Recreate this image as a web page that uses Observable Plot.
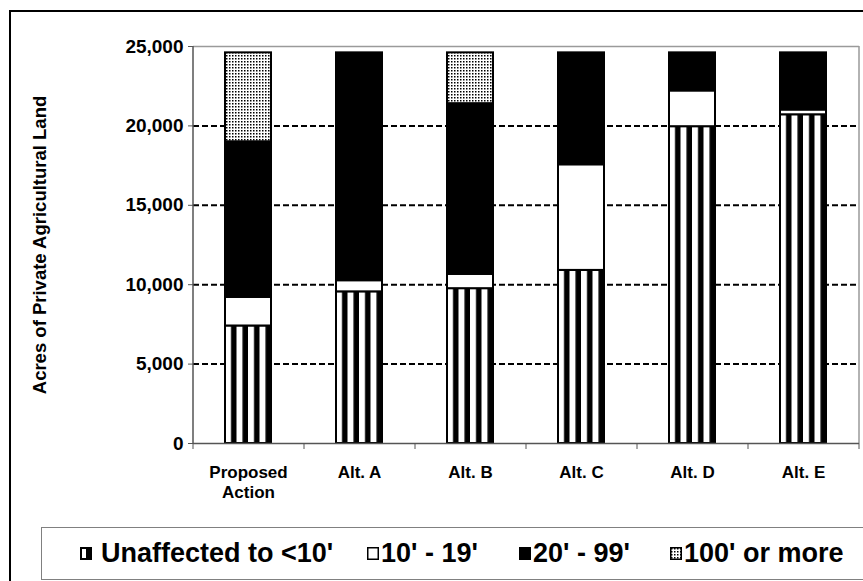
<!DOCTYPE html>
<html>
<head>
<meta charset="utf-8">
<script src="https://cdn.jsdelivr.net/npm/d3@7"></script>
<script src="https://cdn.jsdelivr.net/npm/@observablehq/plot@0.6"></script>
<style>
  body { margin: 0; background: white; }
  #wrap { position: relative; width: 863px; height: 581px; overflow: hidden; background: white;
          font-family: Arial, "Liberation Sans", sans-serif; }
  #chart { position: absolute; left: 0; top: 0; }
  #legend { position: absolute; left: 41px; top: 527px; width: 900px; height: 53px;
            border: 1px solid #808080; box-sizing: border-box; }
  .item { position: absolute; top: 0; height: 51px; display: flex; align-items: center;
          font-weight: bold; font-size: 27px; color: black; white-space: nowrap; }
  .item svg { margin-right: 2px; }
  .item.first svg { margin-right: 9px; }
  #frame { position: absolute; left: 9px; top: 10px; width: 900px; height: 700px;
           border: 2px solid black; pointer-events: none; }
</style>
</head>
<body>
<div id="wrap">
  <div id="chart"></div>
  <div id="legend"></div>
  <div id="frame"></div>
</div>
<script>
// ---- data ----
const categories = ["Proposed Action", "Alt. A", "Alt. B", "Alt. C", "Alt. D", "Alt. E"];
const categoryLabels = ["Proposed\nAction", "Alt. A", "Alt. B", "Alt. C", "Alt. D", "Alt. E"];
const series = ["Unaffected to <10'", "10' - 19'", "20' - 99'", "100' or more"];
const unaffected = [7400, 9550, 9750, 10900, 19950, 20700];
const ft10to19   = [1800, 700, 900, 6650, 2250, 300];
const ft20to99   = [9800, 14350, 10750, 7050, 2400, 3600];
const ft100plus  = [5600, 0, 3200, 0, 0, 0];
const yTicks = [0, 5000, 10000, 15000, 20000, 25000];
const gridTicks = [5000, 10000, 15000, 20000];

// ---- layout ----
const legendLeft = [38, 325, 477, 628];
const fills = ["url(#stripes)", "white", "black", "url(#dots)"];

const seriesValues = [unaffected, ft10to19, ft20to99, ft100plus];
const data = [];
categories.forEach((c, i) => {
  series.forEach((s, j) => {
    const v = seriesValues[j][i];
    if (v > 0) data.push({cat: c, series: s, value: v});
  });
});
const labelOf = new Map(categories.map((c, i) => [c, categoryLabels[i]]));

const half = 55.5;
const chart = Plot.plot({
  width: 863,
  height: 520,
  marginLeft: 193,
  marginRight: 4,
  marginTop: 46,
  marginBottom: 77,
  style: {fontFamily: "Arial, 'Liberation Sans', sans-serif", color: "black", background: "white"},
  x: {domain: categories, paddingInner: 0.585, paddingOuter: 0.2925},
  y: {domain: [0, 25000]},
  color: {domain: series, range: fills},
  marks: [
    Plot.ruleY(gridTicks, {stroke: "black", strokeWidth: 2, strokeDasharray: "6,3"}),
    Plot.ruleY([25000], {stroke: "#9a9a9a", strokeWidth: 1.5}),
    Plot.ruleX([categories[categories.length - 1]], {dx: half, y1: 0, y2: 25000, stroke: "#9a9a9a", strokeWidth: 1.5}),
    Plot.barY(data, {x: "cat", y: "value", fill: "series", stroke: "black", strokeWidth: 2, order: series}),
    Plot.ruleX([categories[0]], {dx: -half, y1: 0, y2: 25000, stroke: "#555", strokeWidth: 1.5}),
    Plot.ruleY([0], {stroke: "#555", strokeWidth: 1.5}),
    Plot.axisY({ticks: yTicks, tickSize: 5, tickPadding: 5, tickFormat: d3.format(","), fontSize: 19,
                fontWeight: "bold", stroke: "#555", label: null}),
    Plot.axisX({tickSize: 6, tickFormat: () => "", dx: -half, stroke: "#555", label: null}),
    Plot.axisX([categories[categories.length - 1]], {tickSize: 6, tickFormat: () => "", dx: half, stroke: "#555", label: null}),
    Plot.axisX({tickSize: 0, tickPadding: 21, tickFormat: d => labelOf.get(d), fontSize: 17,
                fontWeight: "bold", lineHeight: 1.15, label: null}),
    Plot.text(["Acres of Private Agricultural Land"], {frameAnchor: "left", dx: -153, rotate: -90,
                textAnchor: "middle", fontSize: 18.5, fontWeight: "bold", fill: "black"})
  ]
});

// patterns
const ns = "http://www.w3.org/2000/svg";
const defs = document.createElementNS(ns, "defs");
defs.innerHTML = `
  <pattern id="stripes" patternUnits="objectBoundingBox" width="0.25" height="1">
    <rect x="0" y="0" width="100" height="2000" fill="white"/>
    <rect x="6" y="0" width="5.6" height="2000" fill="black"/>
  </pattern>
  <pattern id="dots" patternUnits="userSpaceOnUse" width="3" height="3">
    <rect x="0" y="0" width="3" height="3" fill="white"/>
    <rect x="1" y="1" width="1.5" height="1.5" fill="black"/>
  </pattern>`;
chart.insertBefore(defs, chart.firstChild);
document.getElementById("chart").appendChild(chart);

// legend
const swatches = [
  `<svg width="12" height="13"><rect x="0" y="0" width="12" height="13" fill="black"/><rect x="2" y="2" width="4" height="9" fill="white"/></svg>`,
  `<svg width="12" height="13"><rect x="0.75" y="0.75" width="10.5" height="11.5" fill="white" stroke="black" stroke-width="1.5"/></svg>`,
  `<svg width="12" height="13"><rect x="0" y="0" width="12" height="13" fill="black"/></svg>`,
  `<svg width="12" height="13"><defs><pattern id="ldots" patternUnits="userSpaceOnUse" width="3" height="3"><rect width="3" height="3" fill="white"/><rect x="1" y="1" width="1.5" height="1.5" fill="black"/></pattern></defs><rect x="0.75" y="0.75" width="10.5" height="11.5" fill="url(#ldots)" stroke="black" stroke-width="1.5"/></svg>`
];
const legend = document.getElementById("legend");
series.forEach((s, i) => {
  const d = document.createElement("div");
  d.className = i === 0 ? "item first" : "item";
  d.style.left = legendLeft[i] + "px";
  d.innerHTML = swatches[i];
  const t = document.createElement("span");
  t.textContent = s;
  d.appendChild(t);
  legend.appendChild(d);
});
</script>
</body>
</html>
